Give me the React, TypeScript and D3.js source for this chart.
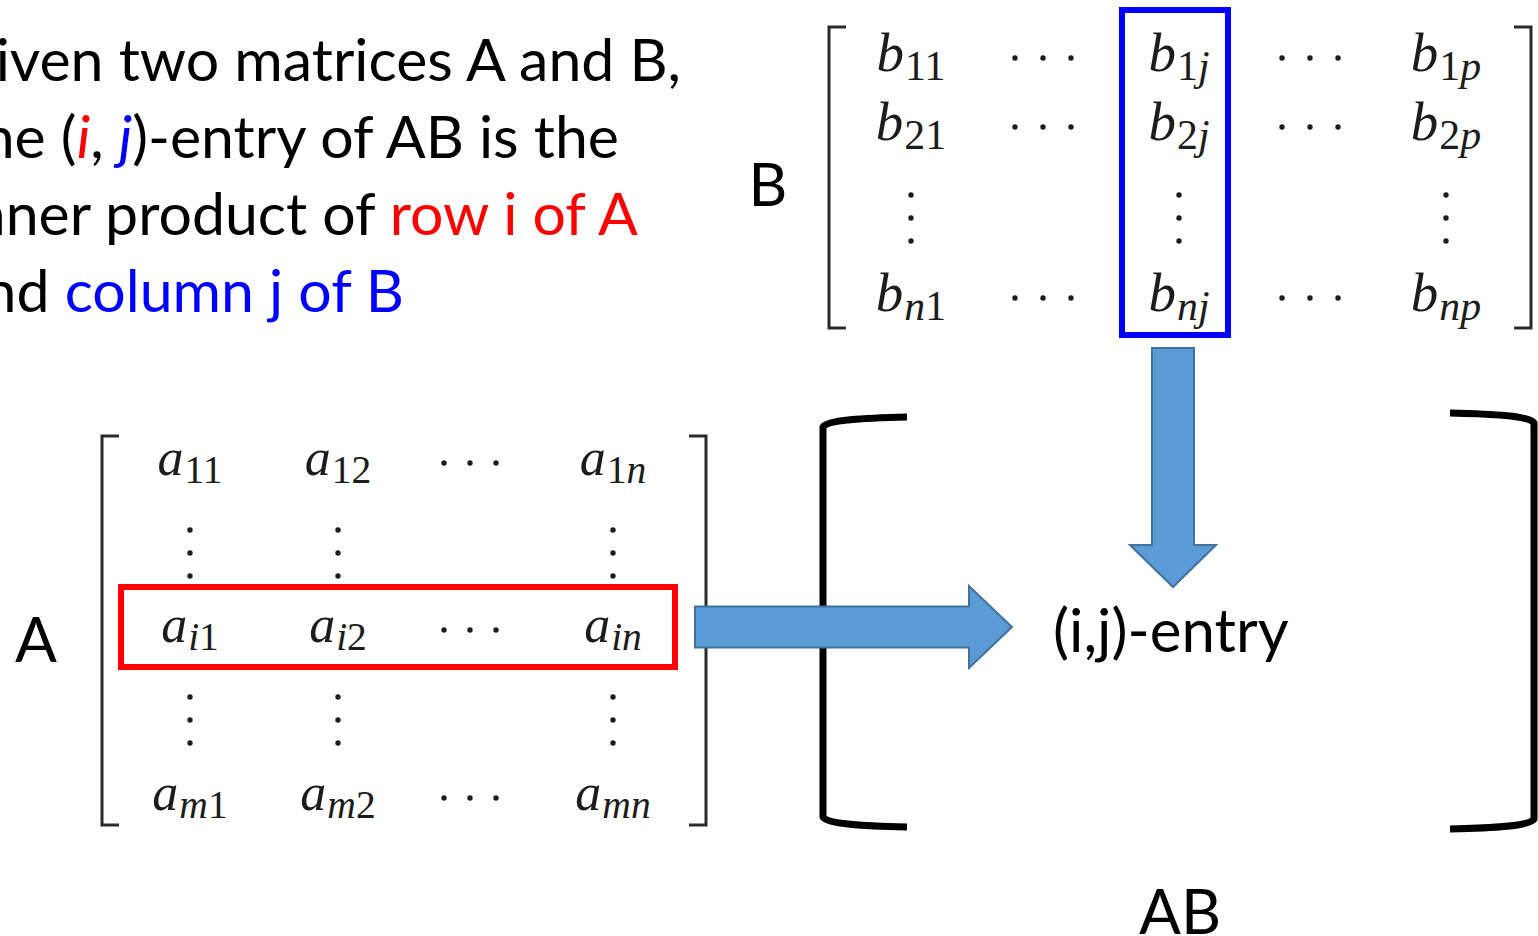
import React from "react";
import * as d3 from "d3";

// ---- text content ----
const introLines = [
  [{ t: "Given two matrices A and B,", c: "#000", i: false }],
  [
    { t: "The (", c: "#000", i: false },
    { t: "i", c: "#ff0000", i: true },
    { t: ", ", c: "#000", i: false },
    { t: "j", c: "#0000ff", i: true },
    { t: ")-entry of AB is the", c: "#000", i: false },
  ],
  [
    { t: "inner product of ", c: "#000", i: false },
    { t: "row i of A", c: "#ff0000", i: false },
  ],
  [
    { t: "and ", c: "#000", i: false },
    { t: "column j of B", c: "#0000ff", i: false },
  ],
];
const introRightEdges = [681, 619, 638, 404];

// ---- matrix B ----
const bRowIdx = ["1", "2", "vd", "n"];
const bColIdx = ["1", "cd", "j", "cd", "p"];
const bRowY = [71, 140, 218, 311];
const bColX = [911, 1043, 1179, 1310, 1446];

// ---- matrix A ----
const aRowIdx = ["1", "vd", "i", "vd", "m"];
const aColIdx = ["1", "2", "cd", "n"];
const aRowY = [475, 553, 642, 720, 810];
const aColX = [190, 338, 470, 613];

const isDigit = (s: string) => /^[0-9]+$/.test(s);

function Entry({ x, y, letter, sub, size }: any) {
  const parts = sub.split("");
  return (
    <text
      x={x}
      y={y}
      textAnchor="middle"
      fontFamily="'Liberation Serif', serif"
      fontSize={size}
      fill="#1c1c1c"
    >
      <tspan fontStyle="italic">{letter}</tspan>
      <tspan fontSize={size * 0.76} dy={size * 0.16} dx={1}>
        {parts.map((p: string, k: number) => (
          <tspan key={k} fontStyle={isDigit(p) ? "normal" : "italic"}>
            {p}
          </tspan>
        ))}
      </tspan>
    </text>
  );
}

function CDots({ x, y, gap }: any) {
  return (
    <g fill="#1c1c1c">
      {[-1, 0, 1].map((k) => (
        <circle key={k} cx={x + k * gap} cy={y} r={2.7} />
      ))}
    </g>
  );
}
function VDots({ x, y, gap }: any) {
  return (
    <g fill="#1c1c1c">
      {[-1, 0, 1].map((k) => (
        <circle key={k} cx={x} cy={y + k * gap} r={2.7} />
      ))}
    </g>
  );
}

function Matrix({ letter, rowIdx, colIdx, rowY, colX, size, dotGap, axis }: any) {
  const items: any[] = [];
  rowIdx.forEach((r: string, ri: number) => {
    colIdx.forEach((c: string, ci: number) => {
      const key = `${ri}-${ci}`;
      if (r === "vd") {
        if (c !== "cd") items.push(<VDots key={key} x={colX[ci]} y={rowY[ri]} gap={23} />);
      } else if (c === "cd") {
        items.push(<CDots key={key} x={colX[ci]} y={rowY[ri] - axis} gap={dotGap} />);
      } else {
        items.push(<Entry key={key} x={colX[ci]} y={rowY[ri]} letter={letter} sub={r + c} size={size} />);
      }
    });
  });
  return <g>{items}</g>;
}

function thinBracket(x: number, y0: number, y1: number, dir: number) {
  const p = d3.path();
  p.moveTo(x + dir * 17, y0);
  p.lineTo(x, y0);
  p.lineTo(x, y1);
  p.lineTo(x + dir * 17, y1);
  return p.toString();
}

function bigBracket(x: number, y0: number, y1: number, dir: number) {
  const p = d3.path();
  const w = 84;
  p.moveTo(x + dir * w, y0);
  p.bezierCurveTo(x + dir * 40, y0 + 1, x + dir * 4, y0 + 3, x, y0 + 10);
  p.lineTo(x, y1 - 10);
  p.bezierCurveTo(x + dir * 4, y1 - 3, x + dir * 40, y1 - 1, x + dir * w, y1);
  return p.toString();
}

function arrowRight(x0: number, x1: number, cy: number, bodyH: number, headX: number, headH: number) {
  const p = d3.path();
  p.moveTo(x0, cy - bodyH / 2);
  p.lineTo(headX, cy - bodyH / 2);
  p.lineTo(headX, cy - headH / 2);
  p.lineTo(x1, cy);
  p.lineTo(headX, cy + headH / 2);
  p.lineTo(headX, cy + bodyH / 2);
  p.lineTo(x0, cy + bodyH / 2);
  p.closePath();
  return p.toString();
}
function arrowDown(y0: number, y1: number, cx: number, bodyW: number, headY: number, headW: number) {
  const p = d3.path();
  p.moveTo(cx - bodyW / 2, y0);
  p.lineTo(cx + bodyW / 2, y0);
  p.lineTo(cx + bodyW / 2, headY);
  p.lineTo(cx + headW / 2, headY);
  p.lineTo(cx, y1);
  p.lineTo(cx - headW / 2, headY);
  p.lineTo(cx - bodyW / 2, headY);
  p.closePath();
  return p.toString();
}

export default function App() {
  const W = 1538;
  const H = 936;
  const sans = "Lato, 'Open Sans', sans-serif";
  const fs = 59;
  return (
    <svg
      width={W}
      height={H}
      viewBox={`0 0 ${W} ${H}`}
      style={{ position: "absolute", left: 0, top: 0, background: "#fff" }}
    >
      <rect x={0} y={0} width={W} height={H} fill="#fff" />
      {introLines.map((line, li) => (
        <text
          key={li}
          x={introRightEdges[li]}
          y={81 + li * 77}
          textAnchor="end"
          fontFamily={sans}
          fontSize={fs}
        >
          {line.map((s, k) => (
            <tspan key={k} fill={s.c} fontStyle={s.i ? "italic" : "normal"}>
              {s.t}
            </tspan>
          ))}
        </text>
      ))}

      {/* Matrix B */}
      <text x={768} y={206} textAnchor="middle" fontFamily={sans} fontSize={60}>B</text>
      <g fill="none" stroke="#2a2a2a" strokeWidth={3}>
        <path d={thinBracket(829, 27, 328, 1)} />
        <path d={thinBracket(1531, 27, 328, -1)} />
      </g>
      <Matrix letter="b" rowIdx={bRowIdx} colIdx={bColIdx} rowY={bRowY} colX={bColX} size={55} dotGap={28} axis={13} />
      <rect x={1122} y={10} width={106} height={325} fill="none" stroke="#0000ff" strokeWidth={6} />

      {/* Matrix A */}
      <text x={36} y={662} textAnchor="middle" fontFamily={sans} fontSize={62}>A</text>
      <g fill="none" stroke="#2a2a2a" strokeWidth={3}>
        <path d={thinBracket(102, 436, 825, 1)} />
        <path d={thinBracket(706, 436, 825, -1)} />
      </g>
      <Matrix letter="a" rowIdx={aRowIdx} colIdx={aColIdx} rowY={aRowY} colX={aColX} size={52} dotGap={26} axis={12} />
      <rect x={121} y={587} width={554} height={80} fill="none" stroke="#ff0000" strokeWidth={6} />

      {/* AB big brackets */}
      <g fill="none" stroke="#000" strokeWidth={7} strokeLinejoin="round">
        <path d={bigBracket(823, 417, 827, 1)} />
        <path d={bigBracket(1534, 413, 829, -1)} />
      </g>

      {/* Arrows */}
      <g fill="#5b9bd5" stroke="#41719c" strokeWidth={2}>
        <path d={arrowRight(695, 1012, 627, 41, 969, 82)} />
        <path d={arrowDown(348, 587, 1173, 42, 545, 86)} />
      </g>

      <text x={1053} y={652} fontFamily={sans} fontSize={60}>(i,j)-entry</text>
      <text x={1180} y={934} textAnchor="middle" fontFamily={sans} fontSize={62}>AB</text>
    </svg>
  );
}
